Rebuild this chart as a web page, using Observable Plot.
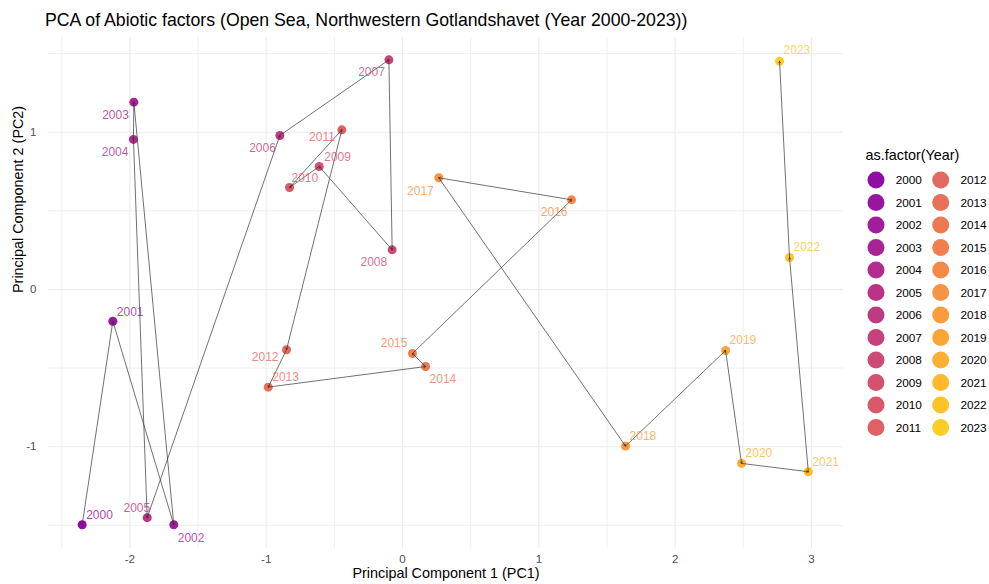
<!DOCTYPE html>
<html><head><meta charset="utf-8">
<script src="https://cdn.jsdelivr.net/npm/d3@7"></script>
<script src="https://cdn.jsdelivr.net/npm/@observablehq/plot@0.6"></script>
<style>
body{margin:0;background:#fff;font-family:"Liberation Sans",Arial,sans-serif;}
#wrap{position:relative;width:989px;height:584px;overflow:hidden;}
#overlay{position:absolute;left:0;top:0;pointer-events:none;}
</style></head><body>
<div id="wrap"><div id="chart"></div><svg id="overlay" width="989" height="584"></svg></div>
<script>
const years = [2000,2001,2002,2003,2004,2005,2006,2007,2008,2009,2010,2011,2012,2013,2014,2015,2016,2017,2018,2019,2020,2021,2022,2023];
const pc1 = [-2.350,-2.125,-1.678,-1.971,-1.974,-1.873,-0.900,-0.100,-0.076,-0.611,-0.829,-0.445,-0.851,-0.985,0.169,0.073,1.240,0.266,1.636,2.370,2.487,2.977,2.839,2.766];
const pc2 = [-1.496,-0.202,-1.496,1.191,0.954,-1.451,0.979,1.460,0.252,0.782,0.648,1.015,-0.383,-0.621,-0.490,-0.407,0.570,0.710,-0.996,-0.388,-1.106,-1.159,0.203,1.451];
const xTicks = [-2,-1,0,1,2,3];
const yTicks = [-1,0,1];
const xMinor = [-2.5,-1.5,-0.5,0.5,1.5,2.5];
const yMinor = [-1.5,-0.5,0.5,1.5];
const titleText = "PCA of Abiotic factors (Open Sea, Northwestern Gotlandshavet (Year 2000-2023))";
const xLabel = "Principal Component 1 (PC1)";
const yLabel = "Principal Component 2 (PC2)";
const legendTitle = "as.factor(Year)";

// label placement (text anchor and pixel offsets), kept apart from the data
const labelAnchor = ["start","start","start","end","end","end","end","end","end","start","start","end","end","start","start","end","end","end","start","start","start","start","start","start"];
const labelDx = [4,4,4,-5,-5,3,-4,-4,-5,5,2,-7,-8,4,4,-5,-4,-5,4,4,4,4,4,4];
const labelDy = [-10,-9,13,13,13,-10,13,12,12,-9,-9,7,7,-10,13,-10,12,13,-10,-10,-10,-10,-10,-11];

const data = years.map((y,i)=>({year:y, pc1:pc1[i], pc2:pc2[i]}));
const segs = data.slice(1).map((d,i)=>({x1:data[i].pc1, y1:data[i].pc2, x2:d.pc1, y2:d.pc2}));
const colors = years.map((y,i)=>d3.interpolatePlasma(0.3 + 0.6*i/(years.length-1)));
const font = "'Liberation Sans', Arial, sans-serif";
const fmt = d => String(d);

const labelMarks = data.map((d,i)=>Plot.text([d], {
  x:"pc1", y:"pc2", text:d=>String(d.year), fill:"year", fillOpacity:0.8,
  textAnchor:labelAnchor[i], dx:labelDx[i], dy:labelDy[i], fontSize:12
}));

const chart = Plot.plot({
  width:989, height:584,
  marginLeft:48, marginRight:146, marginTop:37, marginBottom:36,
  style:{fontFamily:font, background:"#fff"},
  x:{domain:[-2.597,3.235]},
  y:{domain:[-1.647,1.602]},
  color:{type:"ordinal", domain:years, range:colors},
  marks:[
    Plot.gridX(xMinor, {stroke:"#ebebeb", strokeOpacity:1, strokeWidth:0.8}),
    Plot.gridY(yMinor, {stroke:"#ebebeb", strokeOpacity:1, strokeWidth:0.8}),
    Plot.gridX(xTicks, {stroke:"#ebebeb", strokeOpacity:1, strokeWidth:1.1}),
    Plot.gridY(yTicks, {stroke:"#ebebeb", strokeOpacity:1, strokeWidth:1.1}),
    Plot.axisX({ticks:xTicks, tickFormat:fmt, tickSize:0, tickPadding:6, color:"#4d4d4d", fontSize:11.5, label:null}),
    Plot.axisY({ticks:yTicks, tickFormat:fmt, tickSize:0, tickPadding:12, color:"#4d4d4d", fontSize:11.5, label:null}),
    Plot.dot(data, {x:"pc1", y:"pc2", fill:"year", r:4.5}),
    Plot.arrow(segs, {x1:"x1", y1:"y1", x2:"x2", y2:"y2", stroke:"#333", strokeWidth:0.7, headLength:4, bend:0}),
    ...labelMarks,
    Plot.text([xLabel], {text:d=>d, frameAnchor:"bottom", dy:29, fontSize:14.4, fill:"#000"}),
    Plot.text([yLabel], {text:d=>d, frameAnchor:"left", rotate:-90, dx:-30, fontSize:14.4, fill:"#000"})
  ]
});
document.getElementById("chart").appendChild(chart);

const ov = d3.select("#overlay").style("font-family", font);
ov.append("text").attr("x",45).attr("y",25.5).attr("font-size",17.7).attr("fill","#000").text(titleText);
ov.append("text").attr("x",865.5).attr("y",160).attr("font-size",14.4).attr("fill","#000").text(legendTitle);
const perCol = 12;
years.forEach((y,i)=>{
  const col = Math.floor(i/perCol), row = i%perCol;
  const cx = 876 + col*64.7, cy = 180 + row*22.5;
  ov.append("circle").attr("cx",cx).attr("cy",cy).attr("r",8.5).attr("fill",colors[i]);
  ov.append("text").attr("x",cx+19.7).attr("y",cy).attr("dy","0.35em").attr("font-size",11.8).attr("fill","#000").text(String(y));
});
</script>
</body></html>
